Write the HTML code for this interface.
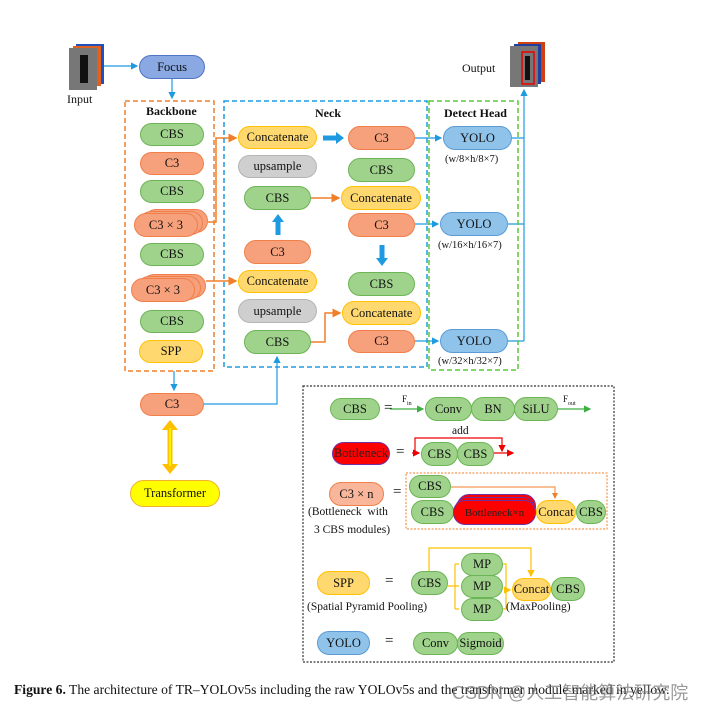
<!DOCTYPE html>
<html><head><meta charset="utf-8"><style>
body{margin:0;width:717px;height:710px;background:#fff;position:relative;overflow:hidden;font-family:"Liberation Serif",serif;}
.n{position:absolute;box-sizing:border-box;border-radius:12px;border:1.5px solid;display:flex;align-items:center;justify-content:center;font-size:12.5px;color:#111;white-space:nowrap;}
.g{background:#9fd38b;border-color:#6cb456;}
.o{background:#f7a07c;border-color:#f07f4a;}
.y{background:#ffd970;border-color:#ffc000;}
.gr{background:#cfcfcf;border-color:#b5b5b5;}
.b{background:#8fc3ea;border-color:#5b9bd5;}
.r{background:#ff0000;border-color:#7030a0;color:#222;}
.t{position:absolute;font-size:11.5px;color:#111;white-space:nowrap;}
</style></head><body>
<svg width="717" height="710" style="position:absolute;left:0;top:0">
<defs>
<marker id="ab" markerWidth="6" markerHeight="6" refX="5" refY="3" orient="auto"><path d="M0,0L6,3L0,6z" fill="#1e9be0"/></marker>
<marker id="ao" markerWidth="6" markerHeight="6" refX="5" refY="3" orient="auto"><path d="M0,0L6,3L0,6z" fill="#f07f2a"/></marker>
<marker id="ar" markerWidth="6" markerHeight="6" refX="5" refY="3" orient="auto"><path d="M0,0L6,3L0,6z" fill="#e00"/></marker>
<marker id="ag" markerWidth="6" markerHeight="6" refX="5" refY="3" orient="auto"><path d="M0,0L6,3L0,6z" fill="#3cb043"/></marker>
<marker id="ay" markerWidth="6" markerHeight="6" refX="5" refY="3" orient="auto"><path d="M0,0L6,3L0,6z" fill="#ffc000"/></marker>
</defs>
<rect x="76" y="44" width="28" height="40" fill="#2050c0"/><rect x="73" y="46" width="28" height="40" fill="#e06020"/><rect x="69" y="48" width="28" height="42" fill="#777"/><rect x="80" y="55" width="8" height="28" fill="#111"/>
<rect x="518" y="42" width="27" height="40" fill="#d04010"/><rect x="514" y="44" width="27" height="40" fill="#2040a0"/><rect x="510" y="46" width="28" height="41" fill="#777"/><rect x="522" y="52" width="12" height="32" fill="none" stroke="#e00" stroke-width="1.5"/><rect x="525" y="56" width="5" height="24" fill="#111"/>
<g stroke="#1e9be0" stroke-width="1.2" fill="none">
<path d="M104 66H137" marker-end="url(#ab)"/>
<path d="M172 79V98" marker-end="url(#ab)"/>
<path d="M174 371V390" marker-end="url(#ab)"/>
<path d="M204 404H277V357" marker-end="url(#ab)"/>
<path d="M415 138H441" marker-end="url(#ab)"/>
<path d="M415 224H438" marker-end="url(#ab)"/>
<path d="M415 341H438" marker-end="url(#ab)"/>
<path d="M512 138H524M508 224H524M508 341H524M524 341V90" marker-end="url(#ab)"/>
</g>
<path d="M323 138H337" stroke="#1e9be0" stroke-width="5" /><path d="M336 132L344 138L336 144z" fill="#1e9be0"/>
<path d="M278 235V221" stroke="#1e9be0" stroke-width="5"/><path d="M272 222L278 214L284 222z" fill="#1e9be0"/>
<path d="M382 245V259" stroke="#1e9be0" stroke-width="5"/><path d="M376 258L382 266L388 258z" fill="#1e9be0"/>
<g stroke="#f07f2a" stroke-width="1.5" fill="none">
<path d="M208 222H216V138H236" marker-end="url(#ao)"/>
<path d="M206 281H236" marker-end="url(#ao)"/>
<path d="M311 198H339" marker-end="url(#ao)"/>
<path d="M311 342H325V313H340" marker-end="url(#ao)"/>
</g>
<rect x="125" y="101" width="89" height="270" fill="none" stroke="#f07f2a" stroke-width="1.5" stroke-dasharray="5,3"/>
<rect x="224" y="101" width="203" height="266" fill="none" stroke="#1e9be0" stroke-width="1.5" stroke-dasharray="5,3"/>
<rect x="429" y="101" width="89" height="269" fill="none" stroke="#5ac83a" stroke-width="1.5" stroke-dasharray="5,3"/>
<path d="M170 428V466" stroke="#ffc000" stroke-width="5"/><path d="M162 430L170 420L178 430z" fill="#ffc000"/><path d="M162 464L170 474L178 464z" fill="#ffc000"/>
<path d="M170 428V466" stroke="#ffef00" stroke-width="2"/>
<rect x="303" y="386" width="311" height="276" fill="none" stroke="#333" stroke-width="1.2" stroke-dasharray="2,1.5"/>
<path d="M390 409H423" stroke="#3cb043" stroke-width="1.2" marker-end="url(#ag)"/>
<path d="M558 409H590" stroke="#3cb043" stroke-width="1.2" marker-end="url(#ag)"/>
<path d="M415 453V438H502V451" stroke="#e00" stroke-width="1.2" fill="none" marker-end="url(#ar)"/>
<path d="M412 453H419" stroke="#e00" stroke-width="1.2" marker-end="url(#ar)"/>
<path d="M493 453H513" stroke="#e00" stroke-width="1.2" marker-end="url(#ar)"/>
<rect x="406" y="473" width="201" height="56" fill="none" stroke="#f07f2a" stroke-dasharray="2,1.5"/>
<path d="M451 487H555V498" stroke="#f07f2a" stroke-width="1" fill="none" marker-end="url(#ao)"/>
<g stroke="#ffc000" stroke-width="1.2" fill="none">
<path d="M429 571V548H531V576" marker-end="url(#ay)"/>
<path d="M448 586H455M455 564V609M455 564H459M455 586H459M455 609H459"/>
<path d="M503 564H506V609H503M506 590H510" marker-end="url(#ay)"/>
</g>
</svg>
<div class="t" style="left:67px;top:92px;font-size:12px">Input</div>
<div class="t" style="left:462px;top:61px;font-size:12px">Output</div>
<div class="n" style="left:139px;top:55px;width:66px;height:24px;background:#8aa8e2;border-color:#4f74c6">Focus</div>
<div class="t" style="left:146px;top:104px;font-weight:bold;font-size:12px">Backbone</div>
<div class="t" style="left:315px;top:106px;font-weight:bold;font-size:12px">Neck</div>
<div class="t" style="left:444px;top:106px;font-weight:bold;font-size:12px">Detect Head</div>
<div class="n g" style="left:140px;top:123px;width:64px;height:23px">CBS</div>
<div class="n o" style="left:140px;top:152px;width:64px;height:23px">C3</div>
<div class="n g" style="left:140px;top:180px;width:64px;height:23px">CBS</div>
<div class="n o" style="left:144px;top:209px;width:64px;height:24px"></div>
<div class="n o" style="left:139px;top:211px;width:64px;height:24px"></div>
<div class="n o" style="left:134px;top:213px;width:64px;height:24px">C3 × 3</div>
<div class="n g" style="left:140px;top:243px;width:64px;height:23px">CBS</div>
<div class="n o" style="left:142px;top:274px;width:64px;height:24px"></div>
<div class="n o" style="left:137px;top:276px;width:64px;height:24px"></div>
<div class="n o" style="left:131px;top:278px;width:64px;height:24px">C3 × 3</div>
<div class="n g" style="left:140px;top:310px;width:64px;height:23px">CBS</div>
<div class="n y" style="left:139px;top:340px;width:64px;height:23px">SPP</div>
<div class="n y" style="left:238px;top:126px;width:79px;height:23px">Concatenate</div>
<div class="n gr" style="left:238px;top:155px;width:79px;height:23px">upsample</div>
<div class="n g" style="left:244px;top:186px;width:67px;height:24px">CBS</div>
<div class="n o" style="left:244px;top:240px;width:67px;height:24px">C3</div>
<div class="n y" style="left:238px;top:270px;width:79px;height:23px">Concatenate</div>
<div class="n gr" style="left:238px;top:299px;width:79px;height:24px">upsample</div>
<div class="n g" style="left:244px;top:330px;width:67px;height:24px">CBS</div>
<div class="n o" style="left:348px;top:126px;width:67px;height:24px">C3</div>
<div class="n g" style="left:348px;top:158px;width:67px;height:24px">CBS</div>
<div class="n y" style="left:341px;top:186px;width:80px;height:24px">Concatenate</div>
<div class="n o" style="left:348px;top:213px;width:67px;height:24px">C3</div>
<div class="n g" style="left:348px;top:272px;width:67px;height:24px">CBS</div>
<div class="n y" style="left:342px;top:301px;width:79px;height:24px">Concatenate</div>
<div class="n o" style="left:348px;top:330px;width:67px;height:23px">C3</div>
<div class="n b" style="left:443px;top:126px;width:69px;height:24px">YOLO</div>
<div class="t" style="left:445px;top:154px;font-size:10.5px">(w/8×h/8×7)</div>
<div class="n b" style="left:440px;top:212px;width:68px;height:24px">YOLO</div>
<div class="t" style="left:438px;top:240px;font-size:10.5px">(w/16×h/16×7)</div>
<div class="n b" style="left:440px;top:329px;width:68px;height:24px">YOLO</div>
<div class="t" style="left:438px;top:356px;font-size:10.5px">(w/32×h/32×7)</div>
<div class="n o" style="left:140px;top:393px;width:64px;height:23px">C3</div>
<div class="n" style="left:130px;top:480px;width:90px;height:27px;background:#ffff00;border-color:#f0b030;border-radius:14px">Transformer</div>
<div class="n g" style="left:330px;top:398px;width:50px;height:22px">CBS</div>
<div class="t" style="left:384px;top:400px;font-size:15px">=</div>
<div class="t" style="left:402px;top:394px;font-size:9px">F<sub style="font-size:6px">in</sub></div>
<div class="n g" style="left:425px;top:397px;width:47px;height:24px">Conv</div>
<div class="n g" style="left:471px;top:397px;width:44px;height:24px">BN</div>
<div class="n g" style="left:514px;top:397px;width:44px;height:24px">SiLU</div>
<div class="t" style="left:563px;top:394px;font-size:9px">F<sub style="font-size:6px">out</sub></div>
<div class="t" style="left:452px;top:425px">add</div>
<div class="n r" style="left:332px;top:442px;width:58px;height:23px">Bottleneck</div>
<div class="t" style="left:396px;top:444px;font-size:15px">=</div>
<div class="n g" style="left:421px;top:442px;width:37px;height:24px">CBS</div>
<div class="n g" style="left:457px;top:442px;width:37px;height:24px">CBS</div>
<div class="n o" style="left:329px;top:482px;width:55px;height:24px;background:#f9b69a">C3 × n</div>
<div class="t" style="left:393px;top:484px;font-size:15px">=</div>
<div class="t" style="left:308px;top:506px">(Bottleneck&nbsp; with</div>
<div class="t" style="left:314px;top:524px">3 CBS modules)</div>
<div class="n g" style="left:409px;top:475px;width:42px;height:23px">CBS</div>
<div class="n g" style="left:411px;top:500px;width:43px;height:24px">CBS</div>
<div class="n r" style="left:457px;top:494px;width:79px;height:25px"></div>
<div class="n r" style="left:455px;top:497px;width:80px;height:26px"></div>
<div class="n r" style="left:453px;top:500px;width:83px;height:25px;font-size:11px">Bottleneck×n</div>
<div class="n y" style="left:536px;top:500px;width:40px;height:24px">Concat</div>
<div class="n g" style="left:576px;top:500px;width:30px;height:24px">CBS</div>
<div class="n y" style="left:317px;top:571px;width:53px;height:24px">SPP</div>
<div class="t" style="left:385px;top:573px;font-size:15px">=</div>
<div class="t" style="left:307px;top:601px">(Spatial Pyramid Pooling)</div>
<div class="n g" style="left:411px;top:571px;width:37px;height:24px">CBS</div>
<div class="n g" style="left:461px;top:553px;width:42px;height:23px">MP</div>
<div class="n g" style="left:461px;top:575px;width:42px;height:23px">MP</div>
<div class="n g" style="left:461px;top:598px;width:42px;height:23px">MP</div>
<div class="n y" style="left:512px;top:578px;width:39px;height:23px">Concat</div>
<div class="n g" style="left:551px;top:577px;width:34px;height:24px">CBS</div>
<div class="t" style="left:506px;top:601px">(MaxPooling)</div>
<div class="n b" style="left:317px;top:631px;width:53px;height:24px">YOLO</div>
<div class="t" style="left:385px;top:633px;font-size:15px">=</div>
<div class="n g" style="left:413px;top:632px;width:45px;height:23px">Conv</div>
<div class="n g" style="left:457px;top:632px;width:47px;height:23px">Sigmoid</div>
<div class="t" style="left:14px;top:682px;font-size:13.6px"><b>Figure 6.</b> The architecture of TR–YOLOv5s including the raw YOLOv5s and the transformer module marked in yellow.</div>
<div class="t" style="left:452px;top:679px;font-size:18px;color:rgba(120,120,120,0.75);font-family:'Liberation Sans','Noto Sans CJK SC',sans-serif">CSDN @人工智能算法研究院</div>
</body></html>
